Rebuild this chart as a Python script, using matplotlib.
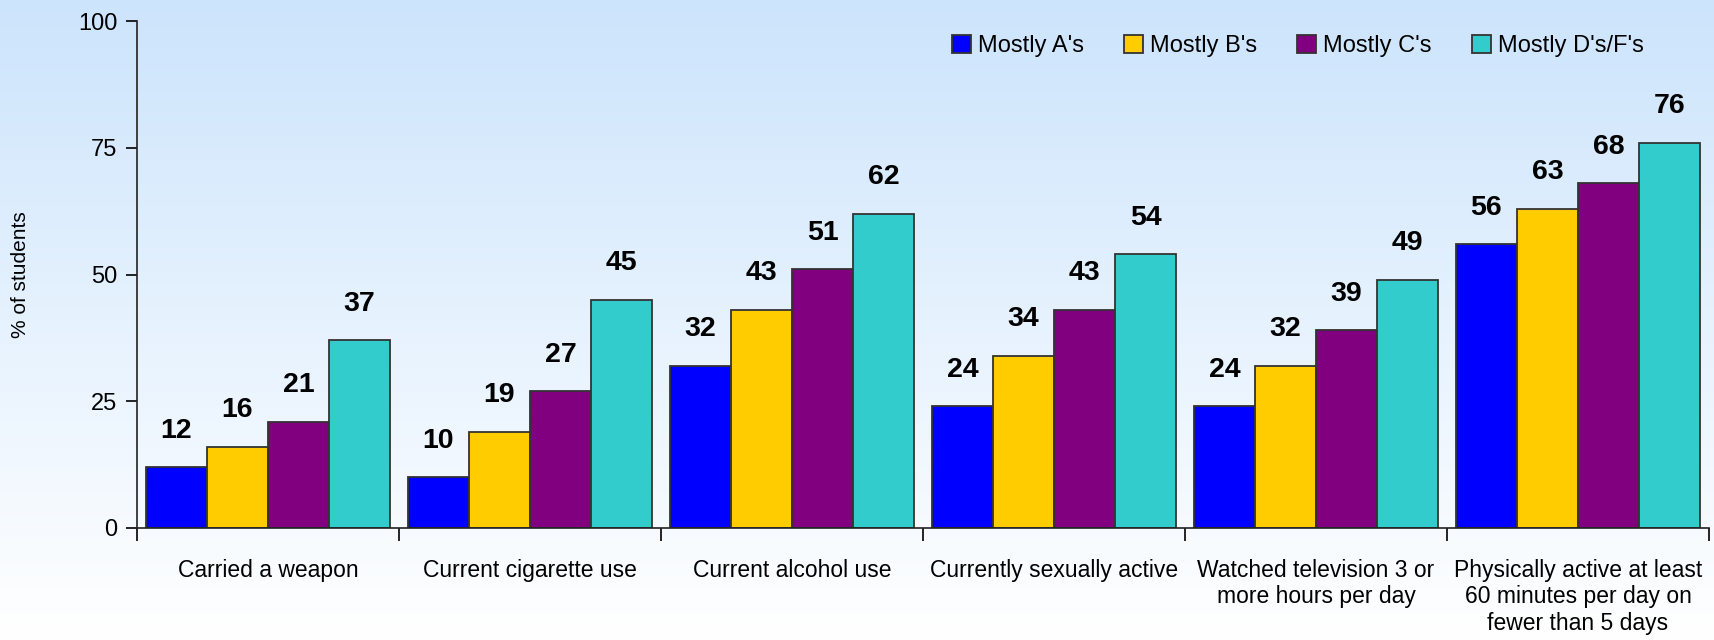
import matplotlib
matplotlib.use("Agg")
import matplotlib.pyplot as plt
import numpy as np
from matplotlib import font_manager
from matplotlib.colors import LinearSegmentedColormap

categories = [
    "Carried a weapon",
    "Current cigarette use",
    "Current alcohol use",
    "Currently sexually active",
    "Watched television 3 or\nmore hours per day",
    "Physically active at least\n60 minutes per day on\nfewer than 5 days",
]
series_names = ["Mostly A's", "Mostly B's", "Mostly C's", "Mostly D's/F's"]
mostly_a = [12, 10, 32, 24, 24, 56]
mostly_b = [16, 19, 43, 34, 32, 63]
mostly_c = [21, 27, 51, 43, 39, 68]
mostly_df = [37, 45, 62, 54, 49, 76]
colors = ["#0000FF", "#FFCC00", "#800080", "#33CCCC"]
y_ticks = [0, 25, 50, 75, 100]

names = {f.name for f in font_manager.fontManager.ttflist}
family = "Liberation Sans Narrow" if "Liberation Sans Narrow" in names else "Liberation Sans"
plt.rcParams["font.family"] = [family, "DejaVu Sans"]

fig = plt.figure(figsize=(17.14, 6.4), dpi=100)

# background gradient: light blue at top fading to white at bottom
bg = fig.add_axes([0, 0, 1, 1], zorder=-10)
cmap = LinearSegmentedColormap.from_list("bg", ["#cce4fc", "#e6f2fe", "#ffffff"])
grad = np.linspace(0, 1, 256).reshape(-1, 1)
bg.imshow(grad, aspect="auto", cmap=cmap, extent=[0, 1, 0, 1], origin="upper")
bg.axis("off")

ax = fig.add_axes([0.0799, 0.175, 0.9172, 0.792])
ax.patch.set_alpha(0)

values = [mostly_a, mostly_b, mostly_c, mostly_df]
x = np.arange(len(categories))
width = 0.233
for k, (vals, name, col) in enumerate(zip(values, series_names, colors)):
    pos = x + (k - 1.5) * width
    ax.bar(pos, vals, width, color=col, edgecolor="#333333", linewidth=1.3, label=name)
    for p, v in zip(pos, vals):
        ax.annotate(str(v), (p, v), xytext=(0, 17), textcoords="offset points",
                    ha="center", va="bottom", fontsize=20.5, fontweight="bold")

ax.set_xlim(-0.5, len(categories) - 0.5)
ax.set_ylim(0, 100)
ax.set_yticks(y_ticks)
ax.tick_params(axis="y", direction="out", length=8, width=1.2, labelsize=17, pad=6)
ax.set_xticks(x)
ax.set_xticklabels(categories, fontsize=16.5, linespacing=1.2)
ax.tick_params(axis="x", which="major", length=0, pad=22)
ax.set_xticks(np.arange(-0.5, len(categories)), minor=True)
ax.tick_params(axis="x", which="minor", direction="out", length=9, width=1.2)
for s in ["top", "right"]:
    ax.spines[s].set_visible(False)
for s in ["left", "bottom"]:
    ax.spines[s].set_linewidth(1.2)
    ax.spines[s].set_color("#222222")
ax.set_ylabel("% of students", fontsize=15)
ax.yaxis.set_label_coords(-0.068, 0.5)

ax.legend(loc="upper right", bbox_to_anchor=(0.972, 1.015), ncol=4, frameon=False,
          fontsize=17, handlelength=0.8, handleheight=0.8, handletextpad=0.3,
          columnspacing=1.7)

fig.savefig("out.png", dpi=100)
